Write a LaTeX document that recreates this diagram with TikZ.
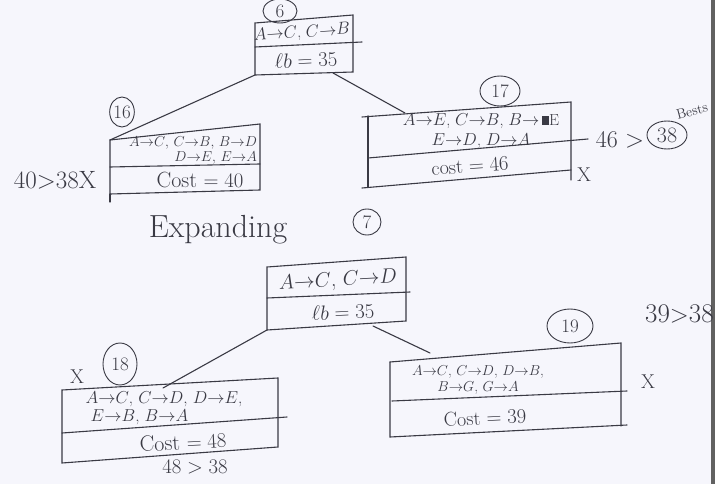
\documentclass[tikz,border=0pt]{standalone}
\usepackage{amsmath,amssymb}
\usepackage{xcolor}
\usepackage{tikz}
\usetikzlibrary{shapes.geometric}

\definecolor{ink}{RGB}{58,58,68}
\definecolor{paper}{RGB}{246,246,252}

\newcommand{\hop}[2]{$#1{\to}#2$}
\newcommand{\fs}[2]{\fontsize{#1}{#2}\selectfont}

\begin{document}
\begin{tikzpicture}[
    x=1pt,
    y=-1pt,
    pen/.style={draw=ink,line width=1.1pt,line cap=round},
    tag/.style={ellipse,draw=ink,line width=0.9pt,inner sep=0pt,text=ink,font=\fs{19}{19}},
    hand/.style={text=ink,inner sep=0pt},
    cross/.style={hand,font=\fs{20}{20}}
]

% ---------------------------------------------------------
% Sheet
% ---------------------------------------------------------

\fill[paper] (0,0) rectangle (715,484);
\useasboundingbox (0,0) rectangle (715,484);
\clip (0,0) rectangle (715,484);
\fill[black!62] (711,0) rectangle (715,484);

% ---------------------------------------------------------
% Node 6 (root)
% ---------------------------------------------------------

\coordinate (b6nw) at (255,23);
\coordinate (b6ne) at (353,15);
\coordinate (b6se) at (353,72);
\coordinate (b6sw) at (255,75);

\draw[pen] (b6nw) -- (b6ne) -- (b6se) -- (b6sw) -- cycle;
\draw[pen] (255,47) -- (362,42);

\node[tag,minimum width=34,minimum height=24] (t6) at (280,11) {6};
\node[hand,font=\fs{16}{16},rotate=4] (r6) at (302,33) {\hop{A}{C}, \hop{C}{B}};
\node[hand,font=\fs{20}{20},rotate=3] (lb6) at (306,60) {$\ell b=35$};

% ---------------------------------------------------------
% Node 16
% ---------------------------------------------------------

\coordinate (b16nw) at (110,140);
\coordinate (b16ne) at (260,124);
\coordinate (b16se) at (260,190);
\coordinate (b16sw) at (110,194);

\draw[pen] (b16nw) -- (b16ne) -- (b16se) -- (b16sw) -- cycle;
\draw[pen] (b16sw) -- (110,202);
\draw[pen] (110,167) -- (260,164);

\node[tag,minimum width=24,minimum height=30] (t16) at (122,112) {16};
\node[hand,font=\fs{14}{15},align=right] (r16) at (193,150)
    {\hop{A}{C}, \hop{C}{B}, \hop{B}{D}\\ \hop{D}{E}, \hop{E}{A}};
\node[hand,font=\fs{22}{22}] (c16) at (200,180) {Cost $=40$};
\node[hand,font=\fs{25}{25}] (p16) at (55,180) {40$>$38X};

% ---------------------------------------------------------
% Node 17
% ---------------------------------------------------------

\coordinate (b17nw) at (368,116);
\coordinate (b17ne) at (571,102);
\coordinate (b17se) at (571,170);
\coordinate (b17sw) at (368,187);

\draw[pen] (362,117) -- (b17ne) -- (571,180);
\draw[pen] (b17nw) -- (b17sw);
\draw[pen] (362,188) -- (b17se);
\draw[pen] (368,158) -- (588,139);

\node[tag,minimum width=40,minimum height=30] (t17) at (500,91) {17};
\node[hand,font=\fs{16}{20},align=center] (r17) at (481,131)
    {\hop{A}{E}, \hop{C}{B}, $B{\to}$\,\rule{7pt}{9pt}E\\ \hop{E}{D}, \hop{D}{A}};
\node[hand,font=\fs{20}{20},rotate=4] (c17) at (470,166) {cost $=46$};
\node[cross] (x17) at (584,175) {X};

\node[hand,font=\fs{24}{24}] (p17) at (620,140) {46 $>$};
\node[tag,minimum width=40,minimum height=28,font=\fs{22}{22}] (t38) at (667,135) {38};
\node[hand,font=\fs{14}{14},rotate=15] (best) at (692,111) {Bests};

% ---------------------------------------------------------
% Edges from node 6
% ---------------------------------------------------------

\coordinate (e6r) at (333,73);
\coordinate (e17) at (405,113);

\draw[pen] (b6sw) -- (b16nw);
\draw[pen] (e6r) -- (e17);

% ---------------------------------------------------------
% Expanding node 7
% ---------------------------------------------------------

\node[hand,font=\fs{32}{32}] (exp) at (218,230) {Expanding};
\node[tag,minimum width=28,minimum height=26] (t7) at (367,222) {7};

\coordinate (b7nw) at (267,267);
\coordinate (b7ne) at (406,257);
\coordinate (b7se) at (406,321);
\coordinate (b7sw) at (267,330);

\draw[pen] (b7nw) -- (b7ne) -- (b7se) -- (b7sw) -- cycle;
\draw[pen] (267,298) -- (410,292);

\node[hand,font=\fs{22}{22},rotate=3] (r7) at (338,281) {\hop{A}{C}, \hop{C}{D}};
\node[hand,font=\fs{22}{22},rotate=3] (lb7) at (343,312) {$\ell b=35$};

% ---------------------------------------------------------
% Node 18
% ---------------------------------------------------------

\coordinate (b18nw) at (62,390);
\coordinate (b18ne) at (278,378);
\coordinate (b18se) at (278,447);
\coordinate (b18sw) at (62,463);

\draw[pen] (b18nw) -- (b18ne) -- (b18se) -- (b18sw) -- cycle;
\draw[pen] (62,433) -- (287,417);

\node[tag,minimum width=34,minimum height=42] (t18) at (120,364) {18};
\node[cross] (x18) at (77,377) {X};
\node[hand,font=\fs{17}{18},align=left] (r18) at (164,408)
    {\hop{A}{C}, \hop{C}{D}, \hop{D}{E},\\ \ \hop{E}{B}, \hop{B}{A}};
\node[hand,font=\fs{22}{22},rotate=3] (c18) at (183,442) {Cost $=48$};
\node[hand,font=\fs{22}{22}] (p18) at (195,467) {$48>38$};

% ---------------------------------------------------------
% Node 19
% ---------------------------------------------------------

\coordinate (b19nw) at (390,362);
\coordinate (b19ne) at (621,343);
\coordinate (b19se) at (621,426);
\coordinate (b19sw) at (390,437);

\draw[pen] (b19nw) -- (b19ne) -- (b19se);
\draw[pen] (b19nw) -- (b19sw) -- (627,425);
\draw[pen] (392,401) -- (627,391);

\node[tag,minimum width=46,minimum height=34] (t19) at (570,326) {19};
\node[hand,font=\fs{15}{16},align=center] (r19) at (478,380)
    {\hop{A}{C}, \hop{C}{D}, \hop{D}{B},\\ \hop{B}{G}, \hop{G}{A}};
\node[hand,font=\fs{20}{20},rotate=3] (c19) at (485,418) {Cost $=39$};
\node[hand,font=\fs{27}{27},anchor=west] (p19) at (645,314) {39$>$38};
\node[cross] (x19) at (648,382) {X};

% ---------------------------------------------------------
% Edges from node 7
% ---------------------------------------------------------

\coordinate (e7r) at (373,326);
\coordinate (e18) at (163,388);
\coordinate (e19) at (430,353);

\draw[pen] (b7sw) -- (e18);
\draw[pen] (e7r) -- (e19);

\end{tikzpicture}
\end{document}
